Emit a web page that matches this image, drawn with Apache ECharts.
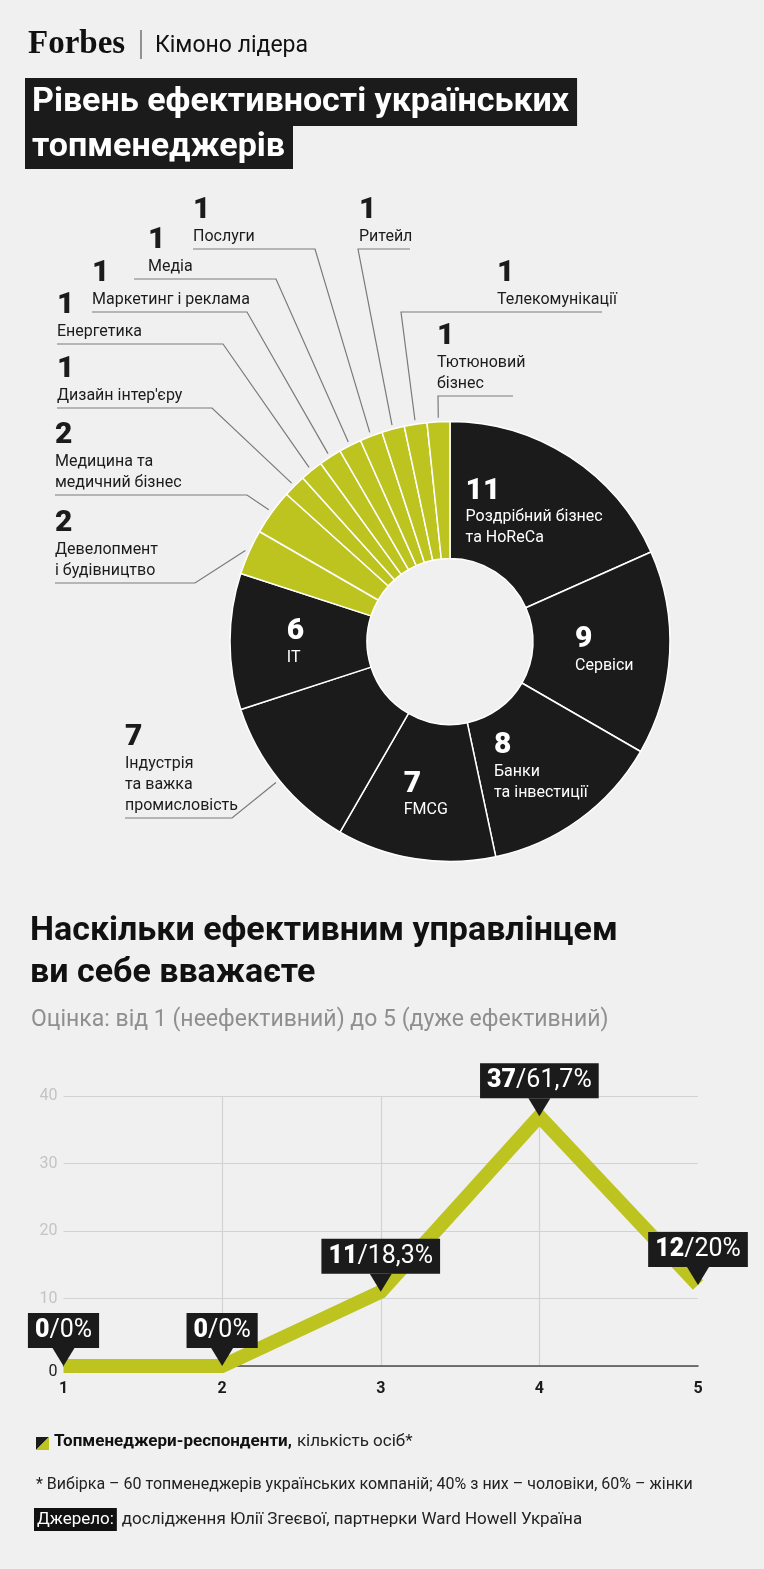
<!DOCTYPE html>
<html><head><meta charset="utf-8">
<script src="https://cdn.jsdelivr.net/npm/echarts@6/dist/echarts.min.js"></script>
<style>html,body{margin:0;padding:0;background:#f0f0f0}#c{width:764px;height:1569px}</style>
</head><body><div id="c"></div>
<script>
// ---------- DATA ----------
const SECTORS = ['Роздрібний бізнес\nта HoReCa', 'Сервіси', 'Банки\nта інвестиції', 'FMCG',
  'Індустрія\nта важка\nпромисловість', 'IT', 'Девелопмент\nі будівництво', 'Медицина та\nмедичний бізнес',
  "Дизайн інтер'єру", 'Енергетика', 'Маркетинг і реклама', 'Медіа', 'Послуги', 'Ритейл',
  'Телекомунікації', 'Тютюновий\nбізнес'];
const SECTOR_COUNTS = [11, 9, 8, 7, 7, 6, 2, 2, 1, 1, 1, 1, 1, 1, 1, 1];
const SCORES = ['1', '2', '3', '4', '5'];
const RESPONDENTS = [0, 0, 11, 37, 12];
const SHARES = ['0%', '0%', '18,3%', '61,7%', '20%'];
const Y_TICKS = [0, 10, 20, 30, 40];

// ---------- STYLE / LAYOUT ----------
const BLACK = '#1b1b1b', GREEN = '#bdc41f', BG = '#f0f0f0';
const FN = '"Roboto","Liberation Sans","DejaVu Sans",sans-serif';
const CX = 450, CY = 641.5, R_IN = 83, R_OUT = 220, R_LINE = 224;
// label placement per sector (layout only)
const LABEL_POS = [
  {in: true}, {in: true}, {in: true}, {in: true},
  {x: 125, line: 818, elbow: 232, end: 125},
  {in: true},
  {x: 55, line: 583, elbow: 195, end: 55},
  {x: 55, line: 495, elbow: 247, end: 55},
  {x: 57, line: 408, elbow: 212, end: 57},
  {x: 57, line: 344, elbow: 223, end: 57},
  {x: 92, line: 312, elbow: 247, end: 92},
  {x: 148, line: 279, elbow: 276, end: 134},
  {x: 193, line: 249, elbow: 315, end: 193},
  {x: 359, line: 249, elbow: 358, end: 410},
  {x: 497, line: 312, elbow: 401, end: 602},
  {x: 437, line: 396, elbow: 438, end: 513}
];
const DARK_MIN = 6; // sectors with at least this many are dark

const TOTAL = SECTOR_COUNTS.reduce((a, b) => a + b, 0);
function midAngle(i) {
  let c = 0;
  for (let j = 0; j < i; j++) c += SECTOR_COUNTS[j];
  return (c + SECTOR_COUNTS[i] / 2) / TOTAL * 2 * Math.PI;
}

const chart = echarts.init(document.getElementById('c'), null, {renderer: 'canvas'});

const pieData = SECTORS.map((n, i) => ({
  name: n,
  value: SECTOR_COUNTS[i],
  itemStyle: {color: SECTOR_COUNTS[i] >= DARK_MIN ? BLACK : GREEN},
  label: {position: LABEL_POS[i].in ? 'inside' : 'outside'},
  labelLine: {show: !LABEL_POS[i].in}
}));

const option = {
  backgroundColor: BG,
  animation: false,
  title: [
    {text: 'Forbes', left: 28, top: 29, padding: 0,
      textStyle: {fontFamily: '"Liberation Serif","DejaVu Serif",serif', fontWeight: 'bold', fontSize: 33, color: '#111', lineHeight: 30}},
    {text: 'Кімоно лідера', left: 155, top: 32, padding: 0,
      textStyle: {fontFamily: FN, fontSize: 23, fontWeight: 'normal', color: '#111', lineHeight: 28}},
    {text: 'Рівень ефективності українських', left: 25, top: 78, padding: [0, 8, 0, 7], backgroundColor: BLACK,
      textStyle: {fontFamily: FN, fontSize: 34, fontWeight: 'bold', color: '#fff', lineHeight: 48}},
    {text: 'топменеджерів', left: 25, top: 126, padding: [0, 8, 0, 7], backgroundColor: BLACK,
      textStyle: {fontFamily: FN, fontSize: 34, fontWeight: 'bold', color: '#fff', lineHeight: 43}},
    {text: 'Наскільки ефективним управлінцем\nви себе вважаєте', left: 30, top: 910, padding: 0,
      textStyle: {fontFamily: FN, fontSize: 34, fontWeight: 'bold', color: '#111', lineHeight: 42}},
    {text: 'Оцінка: від 1 (неефективний) до 5 (дуже ефективний)', left: 31, top: 1006, padding: 0,
      textStyle: {fontFamily: FN, fontSize: 23, fontWeight: 'normal', color: '#8f8f8f', lineHeight: 28}},
    {text: '{b|Топменеджери-респонденти,} {r|кількість осіб*}', left: 54, top: 1432, padding: 0,
      textStyle: {rich: {
        b: {fontFamily: FN, fontSize: 17, fontWeight: 'bold', color: '#111', lineHeight: 20},
        r: {fontFamily: FN, fontSize: 17, fontWeight: 'normal', color: '#222', lineHeight: 20}}}},
    {text: '* Вибірка – 60 топменеджерів українських компаній; 40% з них – чоловіки, 60% – жінки', left: 36, top: 1475, padding: 0,
      textStyle: {fontFamily: FN, fontSize: 16, fontWeight: 'normal', color: '#222', lineHeight: 20}},
    {text: '{box|Джерело:} {t|дослідження Юлії Згеєвої, партнерки Ward Howell Україна}', left: 34, top: 1510, padding: 0,
      textStyle: {rich: {
        box: {fontFamily: FN, fontSize: 17, fontWeight: 'normal', color: '#fff', backgroundColor: '#111', padding: [3, 3, 3, 3], lineHeight: 19},
        t: {fontFamily: FN, fontSize: 17, fontWeight: 'normal', color: '#222', lineHeight: 19}}}}
  ],
  graphic: [
    {type: 'line', shape: {x1: 141, y1: 30, x2: 141, y2: 59}, style: {stroke: '#333', lineWidth: 1}},
    {type: 'polygon', shape: {points: [[36, 1437], [49, 1437], [36, 1450]]}, style: {fill: BLACK}},
    {type: 'polygon', shape: {points: [[49, 1437], [49, 1450], [36, 1450]]}, style: {fill: GREEN}}
  ],
  grid: {left: 63.5, right: 66, top: 1096, bottom: 203, containLabel: false},
  xAxis: {
    type: 'category', data: SCORES, boundaryGap: false, offset: 7,
    axisLine: {lineStyle: {color: '#4a4a4a', width: 1.5}},
    axisTick: {show: false},
    axisLabel: {color: '#1b1b1b', fontFamily: FN, fontWeight: 'bold', fontSize: 16, margin: 8},
    splitLine: {show: true, interval: (i) => i > 0 && i < SCORES.length - 1, lineStyle: {color: '#d2d2d2', width: 1.2}}
  },
  yAxis: {
    type: 'value', min: Y_TICKS[0], max: Y_TICKS[Y_TICKS.length - 1], interval: Y_TICKS[1] - Y_TICKS[0],
    axisLine: {show: false}, axisTick: {show: false},
    splitLine: {lineStyle: {color: '#d2d2d2', width: 1.2}},
    axisLabel: {margin: 6, formatter: (v) => v === 0 ? '{d|0}' : '{g|' + v + '}',
      rich: {d: {fontFamily: FN, fontSize: 16, color: '#222', padding: [12, 0, 0, 0]},
             g: {fontFamily: FN, fontSize: 16, color: '#c4c4c4'}}}
  },
  series: [
    {
      type: 'pie', center: [CX, CY], radius: [R_IN, R_OUT], startAngle: 90, clockwise: true,
      avoidLabelOverlap: false, silent: true,
      itemStyle: {borderColor: '#ffffff', borderWidth: 1.5},
      label: {
        show: true,
        formatter: (p) => {
          const inside = LABEL_POS[p.dataIndex].in;
          const ts = inside ? 'w' : 't';
          return '{' + (inside ? 'nw' : 'nb') + '|' + p.value + '}\n' +
            p.name.split('\n').map(s => '{' + ts + '|' + s + '}').join('\n');
        },
        rich: {
          nb: {fontFamily: FN, fontWeight: 900, fontSize: 30, color: BLACK, lineHeight: 31, align: 'left'},
          nw: {fontFamily: FN, fontWeight: 900, fontSize: 30, color: '#fff', lineHeight: 31, align: 'left'},
          t: {fontFamily: FN, fontSize: 16, color: '#1b1b1b', lineHeight: 21, align: 'left'},
          w: {fontFamily: FN, fontSize: 16, color: '#fff', lineHeight: 21, align: 'left'}
        }
      },
      labelLine: {show: true, length: 10, length2: 10, smooth: false, lineStyle: {color: '#7a7a7a', width: 1.2}},
      labelLayout: function (p) {
        const L = LABEL_POS[p.dataIndex];
        if (L.in) {
          return {x: p.labelRect.x, y: p.labelRect.y, align: 'left', verticalAlign: 'top'};
        }
        const a = midAngle(p.dataIndex);
        const s = [CX + R_LINE * Math.sin(a), CY - R_LINE * Math.cos(a)];
        return {
          x: L.x, y: L.line - 2, align: 'left', verticalAlign: 'bottom',
          labelLinePoints: [s, [L.elbow, L.line], [L.end, L.line]]
        };
      },
      data: pieData
    },
    {
      type: 'line', data: RESPONDENTS, silent: true, z: 3,
      lineStyle: {color: GREEN, width: 14, join: 'miter', cap: 'butt'},
      symbol: 'triangle', symbolSize: [22, 18], symbolRotate: 180, symbolOffset: [0, -9], showSymbol: true,
      itemStyle: {color: BLACK},
      label: {
        show: true, position: 'top', distance: 0,
        backgroundColor: BLACK, padding: [3, 7, 3, 7],
        formatter: (p) => '{b|' + p.value + '}{r|/' + SHARES[p.dataIndex] + '}',
        rich: {
          b: {fontFamily: FN, fontWeight: 900, fontSize: 25, color: '#fff', lineHeight: 29},
          r: {fontFamily: FN, fontWeight: 'normal', fontSize: 25, color: '#fff', lineHeight: 29}
        }
      }
    }
  ]
};
chart.setOption(option);
</script>
</body></html>
